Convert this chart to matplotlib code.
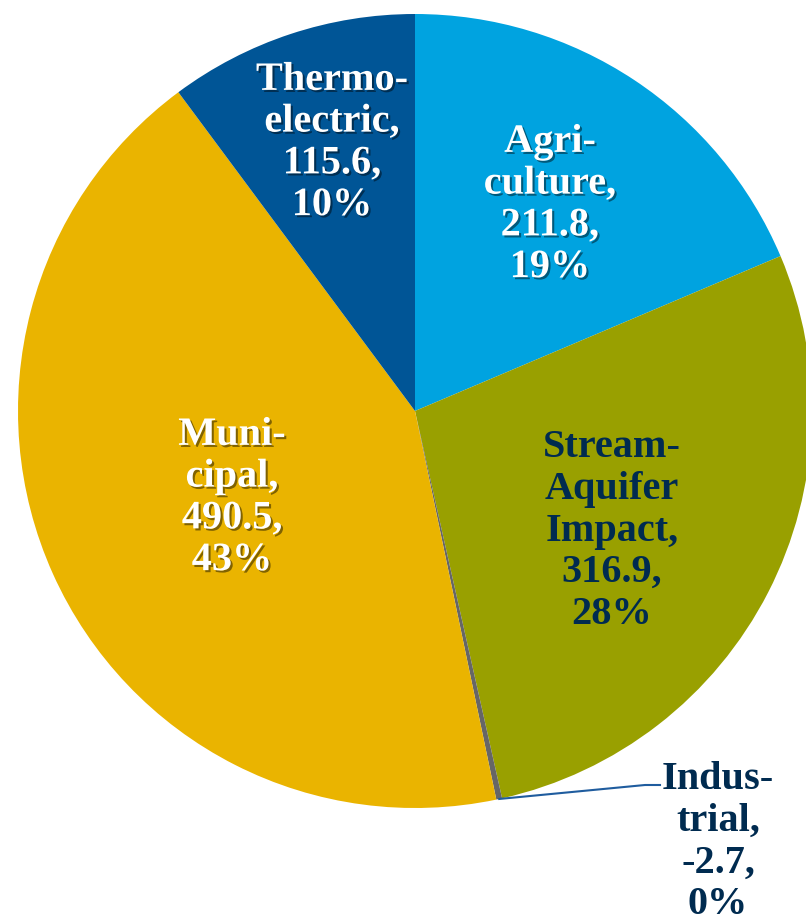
import numpy as np
import matplotlib.pyplot as plt
import matplotlib.patheffects as pe

# water use categories
labels = ["Agri-\nculture", "Stream-\nAquifer\nImpact", "Indus-\ntrial", "Muni-\ncipal", "Thermo-\nelectric"]
values = [211.8, 316.9, -2.7, 490.5, 115.6]
pcts = ["19%", "28%", "0%", "43%", "10%"]
colors = ["#00A3E0", "#99A000", "#666666", "#EAB400", "#005596"]
text_colors = ["white", "#002B50", "#002B50", "white", "white"]

W, H = 806, 922
fig = plt.figure(figsize=(W / 100, H / 100), dpi=100)
ax = fig.add_axes([0, 0, 1, 1])

cx, cy, r = 415, 922 - 411, 397
wedges, _ = ax.pie(np.abs(values), colors=colors, startangle=90, counterclock=False,
                   center=(cx, cy), radius=r, wedgeprops=dict(linewidth=0))
ax.set_xlim(0, W)
ax.set_ylim(0, H)
ax.set_aspect("equal")
ax.axis("off")

# label positions (pixels, y from top)
pos = [(550, 205), (612, 531), (718, 842), (232, 498), (332, 143)]
shadow = [pe.withSimplePatchShadow(offset=(1.5, -1.5), shadow_rgbFace="black", alpha=0.45)]

for i, (lab, v, p) in enumerate(zip(labels, values, pcts)):
    txt = f"{lab},\n{v},\n{p}"
    x, y = pos[i]
    ax.text(x, H - y, txt, ha="center", va="center", fontsize=29, fontweight="bold",
            family="Liberation Serif", color=text_colors[i], linespacing=1.17,
            path_effects=shadow if text_colors[i] == "white" else None)

# leader line for Industrial
w = wedges[2]
ang = np.deg2rad((w.theta1 + w.theta2) / 2)
px, py = cx + r * np.cos(ang), cy + r * np.sin(ang)
ax.plot([px, 645, 660], [py, H - 785, H - 785], color="#1F5C9E", lw=1.5)

fig.savefig("out.png", dpi=100)
